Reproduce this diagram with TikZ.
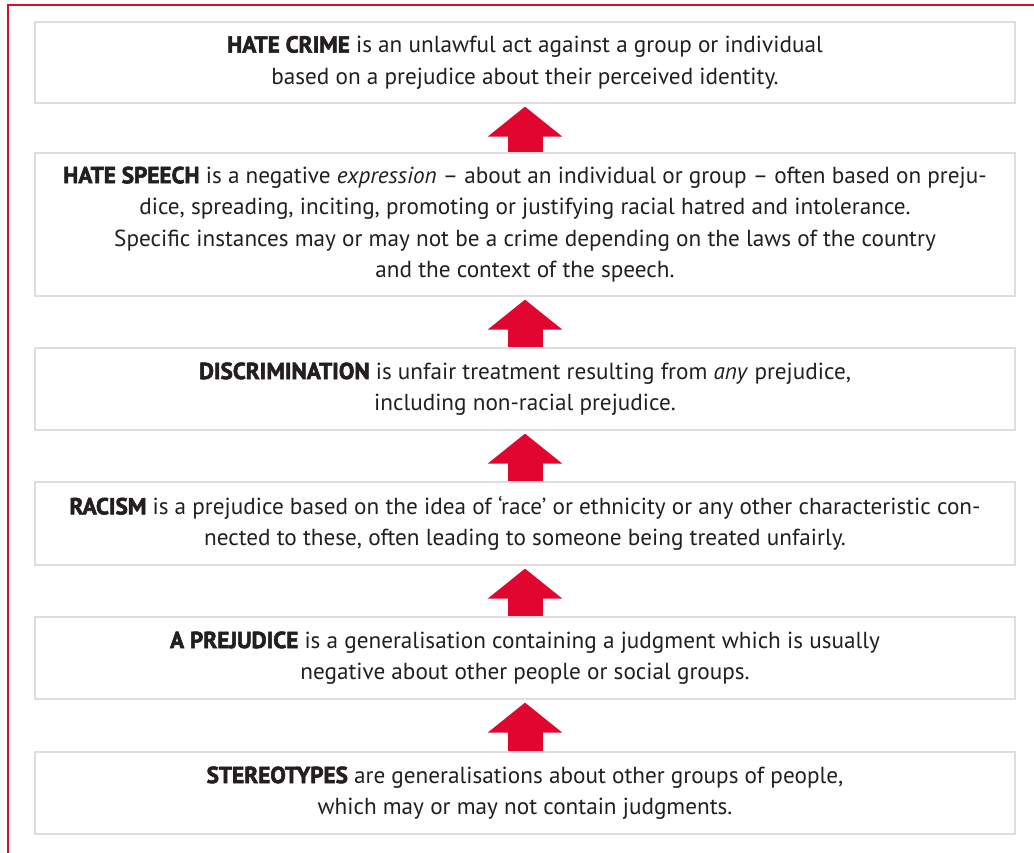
\documentclass[tikz,border=0pt]{standalone}
\usepackage{fontspec}
\setmainfont{PT Sans}
\newfontfamily\heavy[BoldFeatures={FakeBold=2.4}]{PT Sans}
\usetikzlibrary{arrows.meta,calc}
\definecolor{frame}{HTML}{D2112E}
\definecolor{uparrow}{HTML}{E0062F}
\definecolor{ink}{HTML}{231F20}
\tikzset{
  term/.style={draw=black!13,line width=1.2pt,fill=white,inner sep=0pt,
    minimum width=980pt,align=center,text=ink,font=\fontsize{23.2}{31.5}\selectfont},
  lead/.style={-{Triangle[width=73pt,length=30pt]},line width=35pt,uparrow}
}
\newcommand{\kw}[1]{{\heavy\bfseries #1}}

\begin{document}
\begin{tikzpicture}[x=1pt,y=-1pt]
    \useasboundingbox (0,0) rectangle (1034,852);
    \draw[frame,line width=1.5pt] (1040,5) -- (8,5) -- (8,860);

    \node[term,minimum height=81pt] (crime) at (525,62.5)
      {\kw{HATE CRIME} is an unlawful act against a group or individual\\
       based on a prejudice about their perceived identity.};
    \node[term,minimum height=143pt] (speech) at (525,224.5)
      {\kw{HATE SPEECH} is a negative \emph{expression} -- about an individual or group -- often based on preju-\\
       dice, spreading, inciting, promoting or justifying racial hatred and intolerance.\\
       Specific instances may or may not be a crime depending on the laws of the country\\
       and the context of the speech.};
    \node[term,minimum height=82pt] (discr) at (525,389)
      {\kw{DISCRIMINATION} is unfair treatment resulting from \emph{any} prejudice,\\
       including non-racial prejudice.};
    \node[term,minimum height=83pt] (racism) at (525,523.5)
      {\kw{RACISM} is a prejudice based on the idea of ‘race’ or ethnicity or any other characteristic con-\\
       nected to these, often leading to someone being treated unfairly.};
    \node[term,minimum height=82pt] (prej) at (525,658)
      {\kw{A PREJUDICE} is a generalisation containing a judgment which is usually\\
       negative about other people or social groups.};
    \node[term,minimum height=82pt] (stereo) at (525,793)
      {\kw{STEREOTYPES} are generalisations about other groups of people,\\
       which may or may not contain judgments.};

    % arrows, each from the lower box up to the one above
    \foreach \low/\high in {speech/crime,discr/speech,racism/discr,prej/racism,stereo/prej}
      \draw[lead] (\low.north) -- ($(\high.south)+(0,3)$);
\end{tikzpicture}
\end{document}
